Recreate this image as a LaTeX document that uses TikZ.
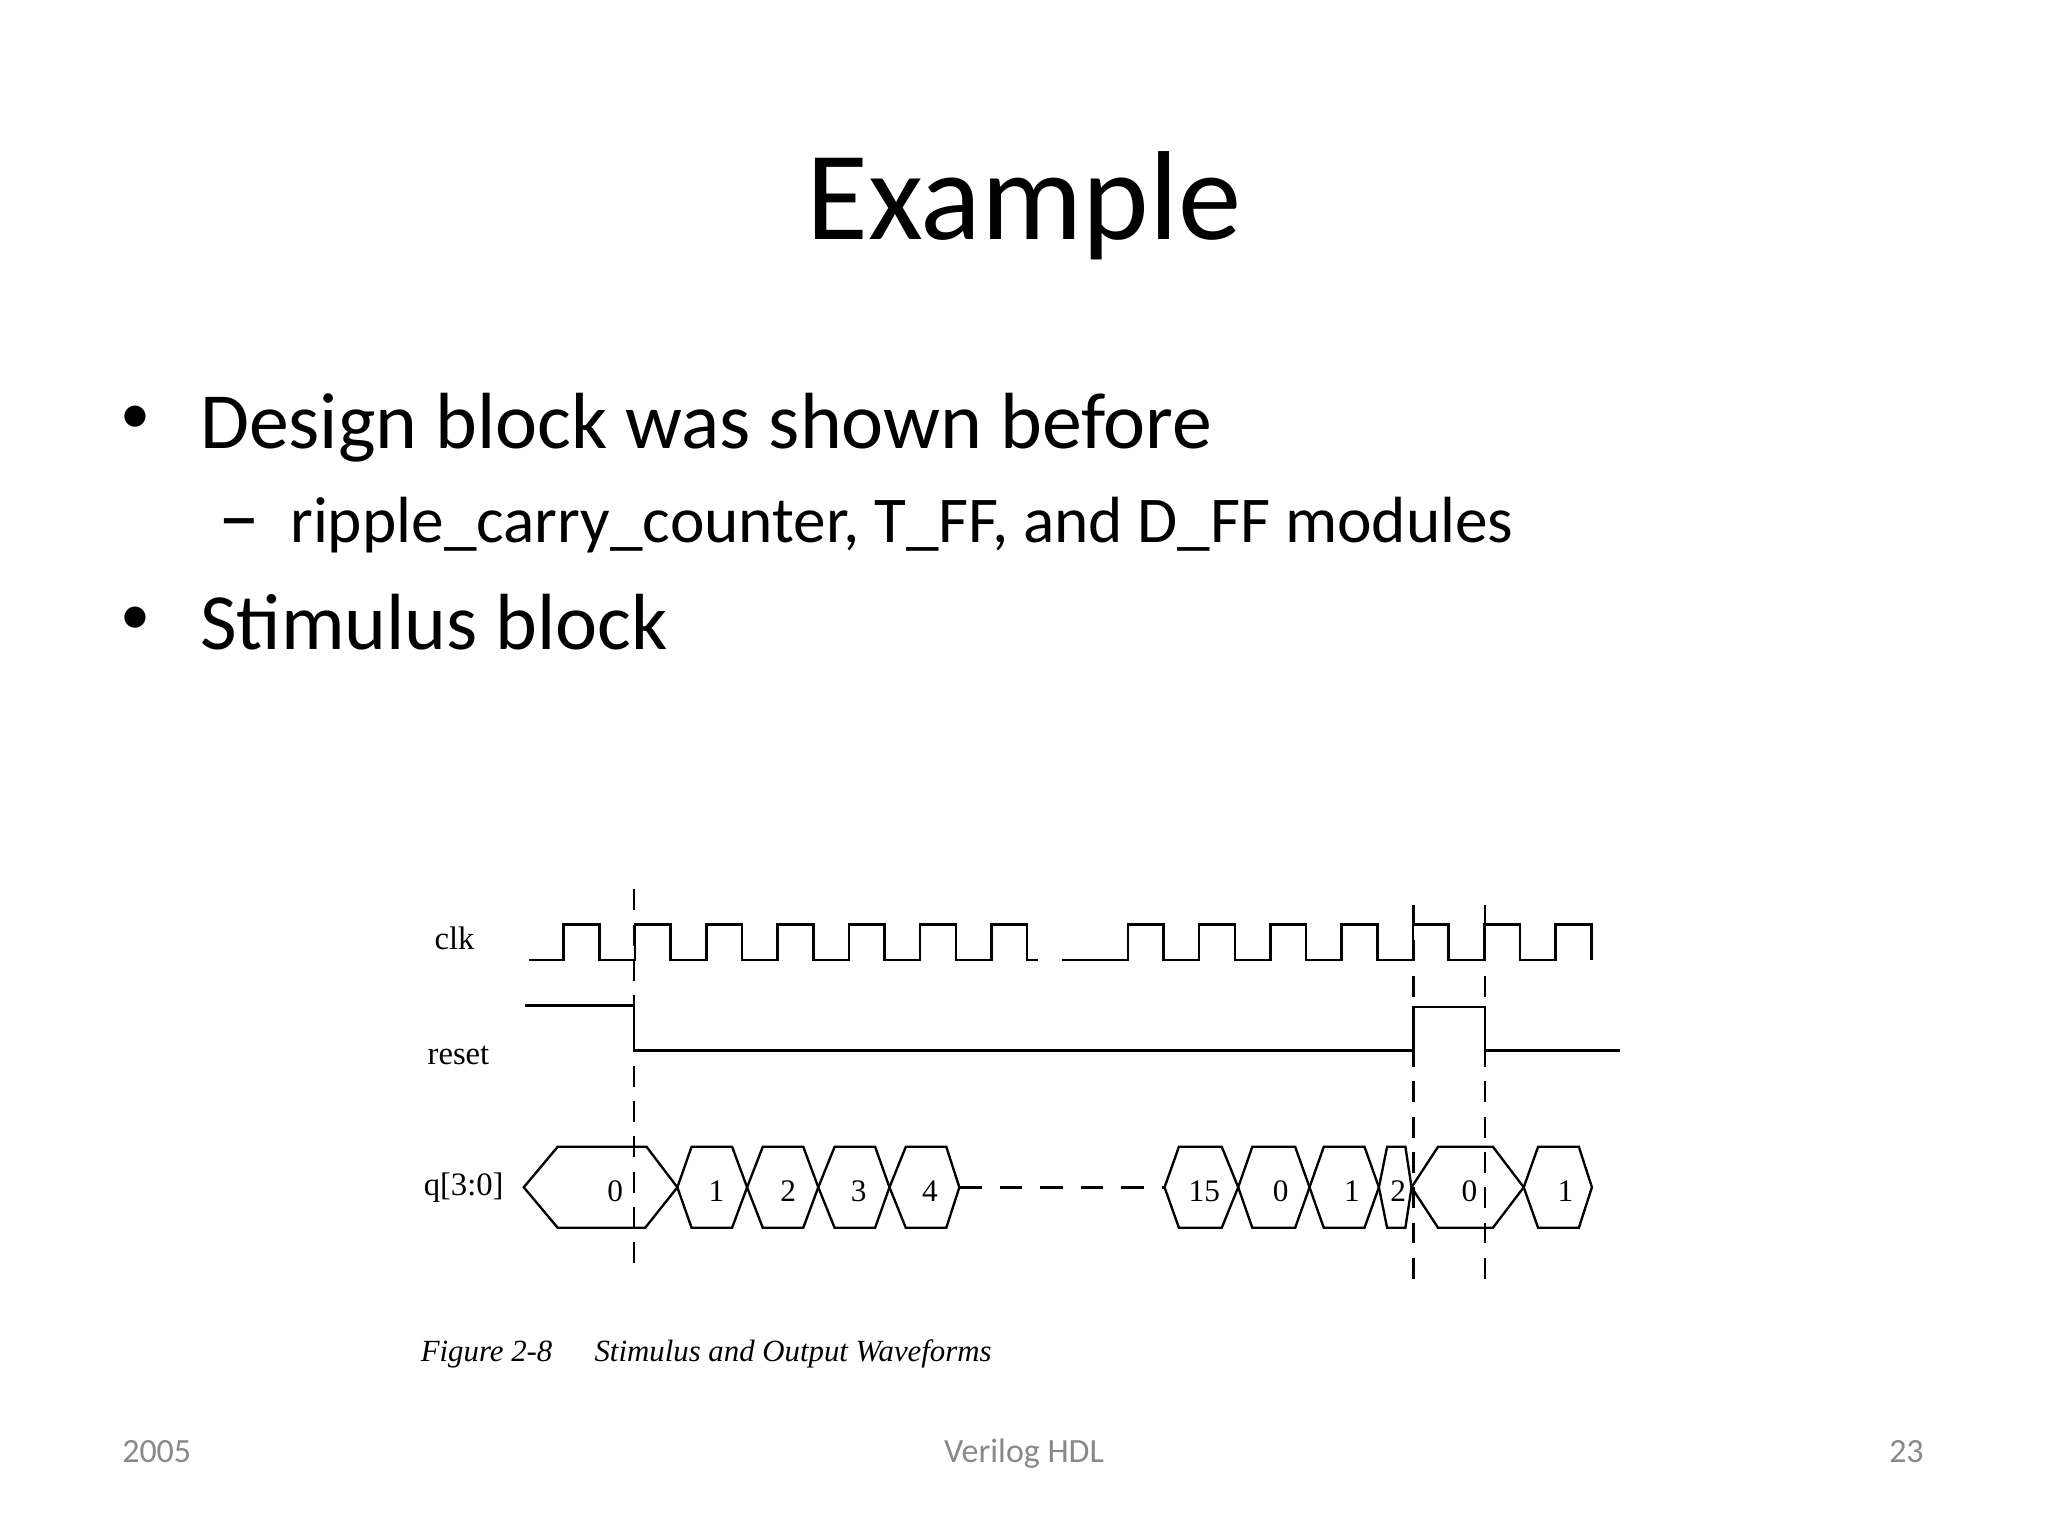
\documentclass[tikz,border=0pt]{standalone}
\usepackage{fontspec}
\setmainfont{Carlito}
\newfontfamily\figfont{Liberation Serif}
\definecolor{footgray}{HTML}{898989}
\begin{document}
\begin{tikzpicture}[x=1pt,y=-1pt,
  wave/.style={line width=2pt,line join=miter},
  vdashed/.style={line width=2pt,dash pattern=on 16pt off 11pt},
  hdashed/.style={line width=2pt,dash pattern=on 17pt off 14pt},
  hexv/.style={line width=1.8pt,line join=miter},
  siglabel/.style={font=\figfont\fontsize{25}{28}\selectfont,inner sep=0pt,anchor=base},
  vallabel/.style={font=\figfont\fontsize{24}{28}\selectfont,inner sep=0pt,anchor=base},
  lvlone/.style={font=\fontsize{61}{72}\selectfont,inner sep=0pt,anchor=base west},
  lvltwo/.style={font=\fontsize{50}{60}\selectfont,inner sep=0pt,anchor=base west},
  bulletmark/.style={font=\fontsize{46}{50}\selectfont,inner sep=0pt,anchor=center},
  captext/.style={font=\figfont\itshape\fontsize{23.6}{27}\selectfont,inner sep=0pt,anchor=base west},
  footer/.style={font=\fontsize{26}{30}\selectfont,text=footgray,inner sep=0pt,anchor=base}]
\useasboundingbox[fill=white] (0,0) rectangle (1568,1176);

% Title and bullets
\node[font=\fontsize{97}{110}\selectfont,inner sep=0pt,anchor=base] (title) at (784,183) {Example};
\node[lvlone] (b1) at (153,343) {Design block was shown before};
\node[bulletmark] (bul1) at (104,321) {•};
\node[lvltwo] (s1) at (222,415) {ripple\_carry\_counter, T\_FF, and D\_FF modules};
\node[font=\fontsize{64}{70}\selectfont,inner sep=0pt,anchor=center] (dash1) at (183.5,407) {–};
\node[lvlone] (b2) at (153,497) {Stimulus block};
\node[bulletmark] (bul2) at (104,475) {•};

% Signal labels
\node[siglabel] (lclk) at (348,727) {clk};
\node[siglabel] (lreset) at (351,815) {reset};
\node[siglabel] (lq) at (355,915) {q[3:0]};

% clock
\draw[wave] (405,735) foreach \k in {0,...,6} { -- ({431.5+54.6*\k},735) |- ({458.8+54.6*\k},708) -- ({458.8+54.6*\k},735) } -- (795,735);
\draw[wave] (813,735) foreach \k in {0,...,6} { -- ({863.5+54.6*\k},735) |- ({890.8+54.6*\k},708) -- ({890.8+54.6*\k},735) };

% reset
\draw[wave] (402,770) -- (485.5,770) -- (485.5,804.5) -- (1082,804.5) -- (1082,771) -- (1137,771) -- (1137,804.5) -- (1240,804.5);

% dashed markers
\draw[vdashed] (485.5,681) -- (485.5,968);
\draw[vdashed] (1082,693) -- (1082,982);
\draw[vdashed] (1137,693) -- (1137,980);

% q values
\draw[hexv] (401,909) -- (427,878) -- (495,878) -- (518.6,909) -- (494,940) -- (427,940) -- cycle;
\draw[hexv] (518.6,909) -- (529.5,878) -- (560.5,878) -- (572,909) -- (560.5,940) -- (529.5,940) -- cycle;
\draw[hexv] (572,909) -- (584,878) -- (615,878) -- (626.5,909) -- (615,940) -- (584,940) -- cycle;
\draw[hexv] (626.5,909) -- (639,878) -- (670,878) -- (681,909) -- (670,940) -- (639,940) -- cycle;
\draw[hexv] (681,909) -- (693.5,878) -- (724.5,878) -- (734.5,909) -- (724.5,940) -- (693.5,940) -- cycle;
\draw[hdashed] (734.5,909) -- (891.6,909);
\draw[hexv] (891.6,909) -- (902.6,878) -- (935.4,878) -- (948,909) -- (935.4,940) -- (902.6,940) -- cycle;
\draw[hexv] (948,909) -- (958.8,878) -- (991.6,878) -- (1002.6,909) -- (991.6,940) -- (958.8,940) -- cycle;
\draw[hexv] (1002.6,909) -- (1013.5,878) -- (1044.7,878) -- (1055.7,909) -- (1044.7,940) -- (1013.5,940) -- cycle;
\draw[hexv] (1055.7,909) -- (1062,878) -- (1076,878) -- (1080.7,909) -- (1076,940) -- (1062,940) -- cycle;
\draw[hexv] (1080.7,909) -- (1101,878) -- (1143,878) -- (1166.6,909) -- (1143,940) -- (1101,940) -- cycle;
\draw[hexv] (1166.6,909) -- (1177.6,878) -- (1208.8,878) -- (1218.8,909) -- (1208.8,940) -- (1177.6,940) -- cycle;

\node[vallabel] (v0) at (471,920) {0};
\node[vallabel] (v1) at (548.5,920) {1};
\node[vallabel] (v2) at (603.5,920) {2};
\node[vallabel] (v3) at (657.5,920) {3};
\node[vallabel] (v4) at (712,920) {4};
\node[vallabel] (v15) at (922,920) {15};
\node[vallabel] (v0b) at (980.5,920) {0};
\node[vallabel] (v1b) at (1035,920) {1};
\node[vallabel] (v2b) at (1070.5,920) {2};
\node[vallabel] (v0c) at (1125,920) {0};
\node[vallabel] (v1c) at (1198.5,920) {1};

% caption
\node[captext] (cap1) at (322,1042) {Figure 2-8};
\node[captext] (cap2) at (455,1042) {Stimulus and Output Waveforms};

% footer
\node[footer] (f1) at (120,1120) {2005};
\node[footer] (f2) at (784,1120) {Verilog HDL};
\node[footer,anchor=base east] (f3) at (1473,1120) {23};
\end{tikzpicture}
\end{document}
